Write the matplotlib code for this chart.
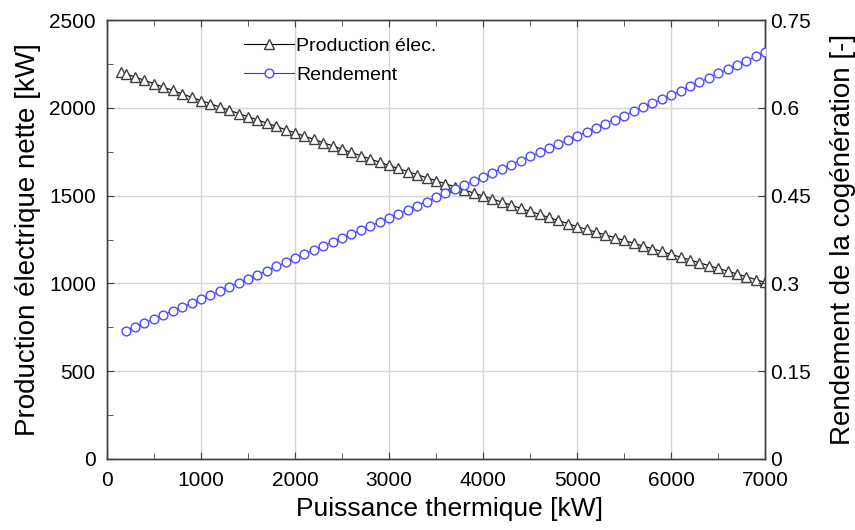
import numpy as np
import matplotlib.pyplot as plt
from matplotlib.ticker import MultipleLocator

plt.rcParams['font.family'] = ['Liberation Sans', 'DejaVu Sans']

# Puissance thermique [kW]
x_prod = [150, 200, 300, 400, 500, 600, 700, 800, 900, 1000,
          1100, 1200, 1300, 1400, 1500, 1600, 1700, 1800, 1900, 2000,
          2100, 2200, 2300, 2400, 2500, 2600, 2700, 2800, 2900, 3000,
          3100, 3200, 3300, 3400, 3500, 3600, 3700, 3800, 3900, 4000,
          4100, 4200, 4300, 4400, 4500, 4600, 4700, 4800, 4900, 5000,
          5100, 5200, 5300, 5400, 5500, 5600, 5700, 5800, 5900, 6000,
          6100, 6200, 6300, 6400, 6500, 6600, 6700, 6800, 6900, 7000]
x_rend = x_prod[1:]

# Production electrique nette [kW]
prod_elec = [2205, 2195, 2176, 2157, 2138, 2119, 2100, 2080, 2061, 2042,
             2024, 2005, 1987, 1968, 1950, 1932, 1913, 1895, 1876, 1858,
             1839, 1821, 1802, 1784, 1765, 1746, 1728, 1709, 1691, 1672,
             1655, 1637, 1620, 1602, 1585, 1568, 1550, 1533, 1515, 1498,
             1481, 1463, 1446, 1428, 1411, 1394, 1376, 1359, 1341, 1324,
             1308, 1292, 1277, 1261, 1245, 1229, 1213, 1198, 1182, 1166,
             1150, 1134, 1118, 1102, 1086, 1070, 1054, 1038, 1022, 1006]

# Rendement de la cogeneration [-]
rendement = [0.219, 0.226, 0.233, 0.239, 0.246, 0.253, 0.260, 0.266, 0.273,
             0.280, 0.287, 0.294, 0.301, 0.308, 0.315, 0.322, 0.329, 0.336, 0.343,
             0.350, 0.357, 0.364, 0.371, 0.378, 0.384, 0.391, 0.398, 0.405, 0.412,
             0.419, 0.426, 0.433, 0.440, 0.447, 0.454, 0.461, 0.468, 0.475, 0.482,
             0.489, 0.496, 0.503, 0.510, 0.517, 0.524, 0.531, 0.538, 0.545, 0.552,
             0.559, 0.566, 0.573, 0.580, 0.587, 0.594, 0.601, 0.608, 0.615, 0.622,
             0.629, 0.637, 0.644, 0.651, 0.659, 0.666, 0.673, 0.680, 0.688, 0.695]

spine_col = '#404040'

fig = plt.figure(figsize=(8.55, 5.3), dpi=100)
ax = fig.add_axes([0.125, 0.134, 0.77, 0.828])
ax2 = ax.twinx()

l1, = ax.plot(x_prod, prod_elec, color='black', linewidth=0.8, marker='^',
              markersize=6.5, markerfacecolor='white', markeredgecolor='#404040',
              markeredgewidth=1.0, label='Production élec.', zorder=3)
l2, = ax2.plot(x_rend, rendement, color='#3333ff', linewidth=0.8, marker='o',
               markersize=6.3, markerfacecolor='white', markeredgecolor='#4a4aff',
               markeredgewidth=1.0, label='Rendement', zorder=3)

ax.set_xlim(0, 7000)
ax.set_ylim(0, 2500)
ax2.set_ylim(0, 0.75)
ax.xaxis.set_major_locator(MultipleLocator(1000))
ax.xaxis.set_minor_locator(MultipleLocator(500))
ax.yaxis.set_major_locator(MultipleLocator(500))
ax.yaxis.set_minor_locator(MultipleLocator(250))
ax2.set_yticks([0, 0.15, 0.3, 0.45, 0.6, 0.75])
ax2.set_yticklabels(['0', '0.15', '0.3', '0.45', '0.6', '0.75'])

ax.grid(True, which='major', color='#d4d4d4', linewidth=1.0)
ax.set_axisbelow(True)

for a in (ax, ax2):
    for s in a.spines.values():
        s.set_color(spine_col)
        s.set_linewidth(1.0)
ax.tick_params(which='both', direction='in', top=True, colors=spine_col,
               labelcolor='black', labelsize=15)
ax.tick_params(which='major', length=5)
ax.tick_params(which='minor', length=4)
ax.tick_params(axis='x', which='both', pad=9)
ax.tick_params(axis='y', which='both', pad=8)
ax2.tick_params(direction='in', length=5, colors=spine_col, labelcolor='black',
                labelsize=15, pad=3.5)

ax.set_xlabel('Puissance thermique [kW]', fontsize=19, va='top')
ax.xaxis.set_label_coords(0.521, -0.086)
ax.set_ylabel('Production électrique nette [kW]', fontsize=20, labelpad=6)
ax2.set_ylabel('Rendement de la cogénération [-]', fontsize=20, labelpad=14)

ax.legend([l1, l2], ['Production élec.', 'Rendement'], loc='upper left',
          bbox_to_anchor=(0.181, 1.0), frameon=False, fontsize=14,
          handlelength=2.6, handletextpad=0.1, labelspacing=0.55)

fig.savefig('out.png', dpi=100)
